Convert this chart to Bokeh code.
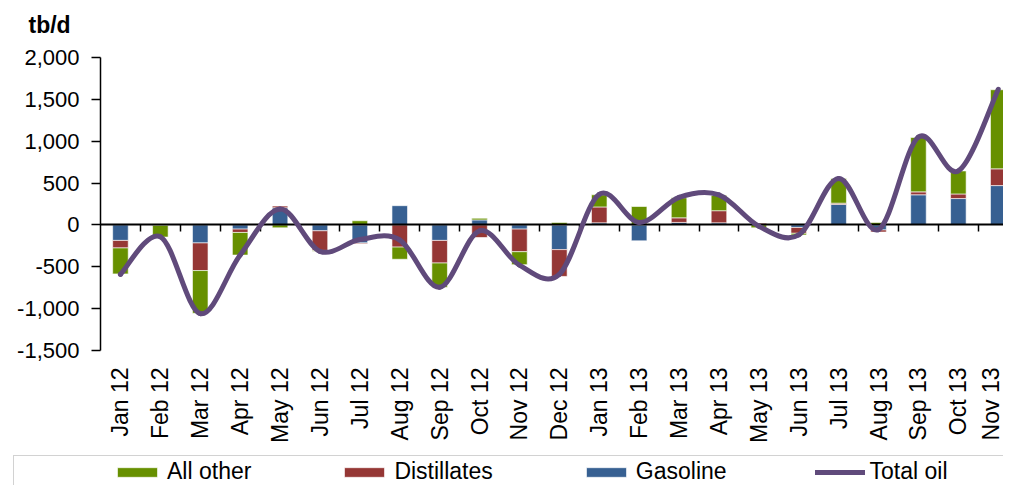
import numpy as np
from bokeh.plotting import figure
from bokeh.models import (Range1d, FixedTicker, LinearAxis, NumeralTickFormatter,
                          Legend, LegendItem, Label)
from bokeh.embed import file_html
from bokeh.resources import INLINE

months = ["Jan 12", "Feb 12", "Mar 12", "Apr 12", "May 12", "Jun 12", "Jul 12",
          "Aug 12", "Sep 12", "Oct 12", "Nov 12", "Dec 12", "Jan 13", "Feb 13",
          "Mar 13", "Apr 13", "May 13", "Jun 13", "Jul 13", "Aug 13", "Sep 13",
          "Oct 13", "Nov 13"]
gasoline = [-185, 0, -215, -50, 205, -70, -215, 230, -185, 60, -50, -295,
            25, -190, 30, 25, 0, -30, 245, -60, 360, 315, 470]
distillates = [-90, -5, -330, -40, 20, -235, -10, -265, -270, -150, -270, -320,
               190, 5, 55, 145, 20, -70, 15, -25, 35, 55, 200]
all_other = [-310, -140, -510, -270, -35, -10, 50, -145, -290, 20, -155, 30,
             145, 215, 240, 185, -35, -20, 295, 30, 650, 275, 945]
total_oil = [-590, -140, -1060, -360, 190, -315, -175, -180, -745, -70, -480, -590,
             365, 30, 330, 360, -15, -120, 555, -55, 1050, 645, 1620]
y_ticks = [-1500, -1000, -500, 0, 500, 1000, 1500, 2000]

GREEN = "#679000"
RED = "#953735"
BLUE = "#376092"
PURPLE = "#604A7B"
FONT = "Liberation Sans"

W, H = 1003, 485
n = len(months)
xs = list(range(n))

# frame covers the whole canvas; axes are placed at fixed data locations
px_per_cat = 39.9
axis_px = 100            # canvas x of the value axis
top_px, bot_px = 57, 350  # canvas y of 2000 and -1500
u = (y_ticks[-1] - y_ticks[0]) / (bot_px - top_px)
x_start = -0.5 - axis_px / px_per_cat
x_end = -0.5 + (W - axis_px) / px_per_cat
y_end = y_ticks[-1] + top_px * u
y_start = y_ticks[0] - (H - bot_px) * u

p = figure(width=W, height=H, output_backend="svg", toolbar_location=None,
           x_range=Range1d(x_start, x_end), y_range=Range1d(y_start, y_end),
           min_border=0, min_border_left=0, min_border_right=0,
           min_border_top=0, min_border_bottom=0)
p.outline_line_color = None
p.xgrid.visible = False
p.ygrid.visible = False
p.background_fill_color = "white"
p.border_fill_color = "white"

# category axis (labels only), sitting at the bottom of the value range
xa = p.xaxis[0]
xa.fixed_location = y_ticks[0]
xa.ticker = FixedTicker(ticks=xs)
xa.major_label_overrides = {i: m for i, m in enumerate(months)}
xa.major_label_orientation = np.pi / 2
xa.axis_line_color = None
xa.major_tick_line_color = None
xa.minor_tick_line_color = None
xa.major_label_standoff = 11
xa.major_label_text_font = FONT
xa.major_label_text_font_size = "23px"
xa.major_label_text_color = "black"

# value axis
ya = p.yaxis[0]
ya.fixed_location = -0.5
ya.bounds = (y_ticks[0], y_ticks[-1])
ya.ticker = FixedTicker(ticks=y_ticks)
ya.formatter = NumeralTickFormatter(format="0,0")
ya.major_tick_out = 9
ya.major_tick_in = 0
ya.minor_tick_line_color = None
ya.axis_line_color = "black"
ya.axis_line_width = 1.5
ya.major_tick_line_color = "black"
ya.major_tick_line_width = 1.5
ya.major_label_standoff = 12
ya.major_label_text_font = FONT
ya.major_label_text_font_size = "22px"
ya.major_label_text_color = "black"

# zero line axis with boundary ticks
bounds = [i + 0.5 for i in range(n - 1)]
za = LinearAxis(ticker=FixedTicker(ticks=bounds), fixed_location=0,
                bounds=(-0.5, x_end),
                major_label_overrides={b: "" for b in bounds})
za.axis_line_color = "black"
za.axis_line_width = 2
za.major_tick_line_color = "black"
za.major_tick_line_width = 1.5
za.major_tick_out = 7
za.major_tick_in = 0
za.minor_tick_line_color = None
za.major_label_text_font_size = "1px"
p.add_layout(za, "below")

# stacked bars, positive and negative stacks kept separately
series = [("Gasoline", gasoline, BLUE), ("Distillates", distillates, RED),
          ("All other", all_other, GREEN)]
pos = np.zeros(n)
neg = np.zeros(n)
rend = {}
for name, vals, color in series:
    v = np.array(vals, dtype=float)
    bottom = np.where(v >= 0, pos, neg)
    top = bottom + v
    pos = np.where(v >= 0, top, pos)
    neg = np.where(v < 0, top, neg)
    rend[name] = p.vbar(x=xs, bottom=bottom, top=top, width=0.39,
                        fill_color=color, line_color="white", line_alpha=0.6,
                        line_width=1)

# smoothed total line (Catmull-Rom style bezier, like Excel smoothing)
t = np.array(total_oil, dtype=float)
x = np.array(xs, dtype=float)
x0, y0, x1, y1 = x[:-1], t[:-1], x[1:], t[1:]
xp = np.concatenate([[x[0]], x[:-2]])
yp = np.concatenate([[t[0]], t[:-2]])
xn = np.concatenate([x[2:], [x[-1]]])
yn = np.concatenate([t[2:], [t[-1]]])
cx0 = x0 + (x1 - xp) / 6
cy0 = y0 + (y1 - yp) / 6
cx1 = x1 - (xn - x0) / 6
cy1 = y1 - (yn - y0) / 6
p.bezier(x0=x0, y0=y0, x1=x1, y1=y1, cx0=cx0, cy0=cy0, cx1=cx1, cy1=cy1,
         line_color=PURPLE, line_width=5, line_cap="round", level="overlay")
# legend proxy for the total line: a zero-length line at the first point,
# hidden under the curve's round cap
line_leg = p.line(x=xs[:1] * 2, y=total_oil[:1] * 2, line_color=PURPLE,
                  line_width=5, line_cap="round")

# legend border box (bottom edge falls outside the canvas)
dummy = p.scatter(x=[], y=[], fill_alpha=0, line_alpha=0)
border = Legend(items=[LegendItem(label=" ", renderers=[dummy])],
                location=(13, -32), padding=0, margin=0,
                glyph_width=1, glyph_height=60, label_width=1100, label_height=60,
                label_text_alpha=0, border_line_color="#a6a6a6", border_line_width=1.5,
                background_fill_alpha=0)
p.add_layout(border)

leg = Legend(items=[LegendItem(label="All other", renderers=[rend["All other"]]),
                    LegendItem(label="Distillates", renderers=[rend["Distillates"]]),
                    LegendItem(label="Gasoline", renderers=[rend["Gasoline"]]),
                    LegendItem(label="Total oil", renderers=[line_leg])],
             orientation="horizontal", location=(112, 0), padding=0, margin=0,
             glyph_width=50, glyph_height=12, label_standoff=5, spacing=88,
             label_text_font=FONT, label_text_font_size="23px",
             label_text_color="black", border_line_color=None,
             background_fill_alpha=0)
p.add_layout(leg)

p.add_layout(Label(x=-0.5, y=y_ticks[-1], x_offset=-72, y_offset=46, text="tb/d",
                   text_font=FONT, text_font_size="23px", text_font_style="bold",
                   text_baseline="top", text_color="black"))

open("out.html", "w").write(file_html(p, INLINE))
